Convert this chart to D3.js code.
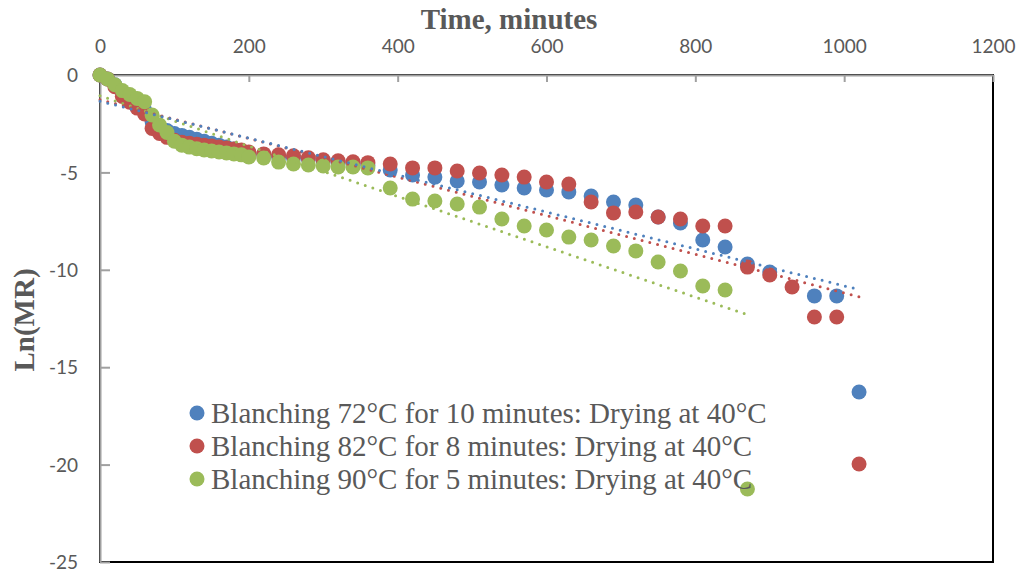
<!DOCTYPE html>
<html>
<head>
<meta charset="utf-8">
<script src="https://cdn.jsdelivr.net/npm/d3@7"></script>
<style>
  body { margin: 0; background: #fff; }
</style>
</head>
<body>
<div id="container"></div>
<script>
// time (minutes) and Ln(MR) for each blanching treatment
const blueTime = [0, 10, 20, 30, 40, 50, 60, 70, 80, 90, 100, 110, 120, 130, 140, 150, 160, 170, 180, 190,
  200, 220, 240, 260, 280, 300, 320, 340, 360,
  390, 420, 450, 480, 510, 540, 570, 600, 630, 660, 690, 720, 750, 780, 810, 840, 870, 900, 960, 990, 1020];
const blueVal = [0, -0.2, -0.5, -0.9, -1.2, -1.5, -1.8, -2.4, -2.7, -2.85, -3.0, -3.1, -3.2, -3.3, -3.4, -3.5, -3.6, -3.7, -3.8, -3.9,
  -4.0, -4.1, -4.2, -4.25, -4.3, -4.4, -4.5, -4.55, -4.65,
  -4.88, -5.13, -5.24, -5.44, -5.49, -5.65, -5.8, -5.9, -6.0, -6.21, -6.52, -6.67, -7.29, -7.6, -8.47, -8.83, -9.7, -10.11, -11.34, -11.34, -16.27];

const redTime = [0, 10, 20, 30, 40, 50, 60, 70, 80, 90, 100, 110, 120, 130, 140, 150, 160, 170, 180, 190,
  200, 220, 240, 260, 280, 300, 320, 340, 360,
  390, 420, 450, 480, 510, 540, 570, 600, 630, 660, 690, 720, 750, 780, 810, 840, 870, 900, 930, 960, 990, 1020];
const redVal = [0, -0.2, -0.6, -1.1, -1.4, -1.7, -2.0, -2.75, -3.0, -3.2, -3.35, -3.45, -3.5, -3.55, -3.6, -3.65, -3.7, -3.75, -3.8, -3.85,
  -3.95, -4.05, -4.1, -4.15, -4.25, -4.35, -4.4, -4.45, -4.5,
  -4.57, -4.77, -4.77, -4.93, -5.03, -5.13, -5.24, -5.49, -5.6, -6.52, -7.08, -7.03, -7.29, -7.39, -7.75, -7.75, -9.86, -10.27, -10.88, -12.42, -12.42, -19.97];

const greenTime = [0, 10, 20, 30, 40, 50, 60, 70, 80, 90, 100, 110, 120, 130, 140, 150, 160, 170, 180, 190,
  200, 220, 240, 260, 280, 300, 320, 340, 360,
  390, 420, 450, 480, 510, 540, 570, 600, 630, 660, 690, 720, 750, 780, 810, 840, 870];
const greenVal = [0, -0.2, -0.5, -0.8, -1.0, -1.2, -1.37, -2.05, -2.57, -2.95, -3.4, -3.6, -3.7, -3.78, -3.85, -3.9, -3.95, -4.0, -4.05, -4.1,
  -4.21, -4.26, -4.47, -4.57, -4.62, -4.67, -4.72, -4.72, -4.77,
  -5.8, -6.37, -6.47, -6.62, -6.78, -7.39, -7.75, -7.96, -8.32, -8.47, -8.78, -9.03, -9.6, -10.06, -10.83, -11.04, -21.25];

const seriesNames = [
  "Blanching 72°C for 10 minutes: Drying at 40°C",
  "Blanching 82°C for 8 minutes: Drying at 40°C",
  "Blanching 90°C for 5 minutes: Drying at 40°C"
];
const seriesColors = ["#4f81bd", "#c0504d", "#9bbb59"];

const xTicks = [0, 200, 400, 600, 800, 1000, 1200];
const yTicks = [0, -5, -10, -15, -20, -25];

const w = 1021;
const h = 574;

const series = [
  { time: blueTime, val: blueVal },
  { time: redTime, val: redVal },
  { time: greenTime, val: greenVal }
].map((s, i) => ({
  name: seriesNames[i],
  color: seriesColors[i],
  points: s.time.map((t, j) => [t, s.val[j]])
}));

// least squares line, like the excel linear trendline
function fitLine(points) {
  const mx = d3.mean(points, d => d[0]);
  const my = d3.mean(points, d => d[1]);
  const sxy = d3.sum(points, d => (d[0] - mx) * (d[1] - my));
  const sxx = d3.sum(points, d => (d[0] - mx) * (d[0] - mx));
  const slope = sxy / sxx;
  const b = my - slope * mx;
  const ext = d3.extent(points, d => d[0]);
  return ext.map(x => [x, b + slope * x]);
}

const xScale = d3.scaleLinear().domain([0, 1200]).range([100, 993]);
const yScale = d3.scaleLinear().domain([0, -25]).range([75, 562]);

const svg = d3.select("#container")
  .append("svg")
  .attr("width", w)
  .attr("height", h);

// plot area border
svg.append("rect")
  .attr("x", xScale(0))
  .attr("y", yScale(0))
  .attr("width", xScale(1200) - xScale(0))
  .attr("height", yScale(-25) - yScale(0))
  .attr("fill", "none")
  .attr("stroke", "#000")
  .attr("stroke-width", 2);

// x axis sits on top at y = 0
const xAxis = d3.axisTop(xScale)
  .tickValues(xTicks)
  .tickFormat(d => String(d))
  .tickSize(-7)
  .tickSizeOuter(0);

const gx = svg.append("g")
  .attr("transform", "translate(0," + yScale(0) + ")")
  .call(xAxis);

const yAxis = d3.axisLeft(yScale)
  .tickValues(yTicks)
  .tickFormat(d => String(d))
  .tickSize(-10)
  .tickSizeOuter(0)
  .tickPadding(22);

const gy = svg.append("g")
  .attr("transform", "translate(" + xScale(0) + ",0)")
  .call(yAxis);

[gx, gy].forEach(g => {
  g.select(".domain").attr("stroke", "#a0a0a0").attr("stroke-width", 2);
  g.selectAll(".tick line").attr("stroke", "#a0a0a0").attr("stroke-width", 2);
  g.selectAll(".tick text")
    .attr("fill", "#595959")
    .style("font-family", "Lato, 'Open Sans', sans-serif")
    .style("font-size", "19px");
});
gx.selectAll(".tick text").attr("dy", "0em").attr("y", -22);
gy.selectAll(".tick text").attr("dy", "0.35em");

// markers
series.forEach(s => {
  svg.append("g")
    .selectAll("circle")
    .data(s.points)
    .enter()
    .append("circle")
    .attr("cx", d => xScale(d[0]))
    .attr("cy", d => yScale(d[1]))
    .attr("r", 7.5)
    .attr("fill", s.color);
});

// dotted trendlines
const line = d3.line().x(d => xScale(d[0])).y(d => yScale(d[1]));
series.slice().reverse().forEach(s => {
  svg.append("path")
    .datum(fitLine(s.points))
    .attr("d", line)
    .attr("fill", "none")
    .attr("stroke", s.color)
    .attr("stroke-width", 3)
    .attr("stroke-linecap", "round")
    .attr("stroke-dasharray", "0 8");
});

// titles
svg.append("text")
  .attr("x", 509)
  .attr("y", 29)
  .attr("text-anchor", "middle")
  .attr("fill", "#595959")
  .style("font-family", "'Liberation Serif', 'Times New Roman', serif")
  .style("font-weight", "bold")
  .style("font-size", "29px")
  .text("Time, minutes");

svg.append("text")
  .attr("transform", "translate(34,320) rotate(-90)")
  .attr("text-anchor", "middle")
  .attr("fill", "#595959")
  .style("font-family", "'Liberation Serif', 'Times New Roman', serif")
  .style("font-weight", "bold")
  .style("font-size", "29px")
  .text("Ln(MR)");

// legend
const legend = svg.append("g")
  .selectAll("g")
  .data(series)
  .enter()
  .append("g")
  .attr("transform", (d, i) => "translate(197," + (413 + i * 33) + ")");

legend.append("circle")
  .attr("r", 7.5)
  .attr("fill", d => d.color);

legend.append("text")
  .attr("x", 14)
  .attr("y", 10)
  .attr("fill", "#595959")
  .style("font-family", "'Liberation Serif', 'Times New Roman', serif")
  .style("font-size", "29px")
  .text(d => d.name);
</script>
</body>
</html>
